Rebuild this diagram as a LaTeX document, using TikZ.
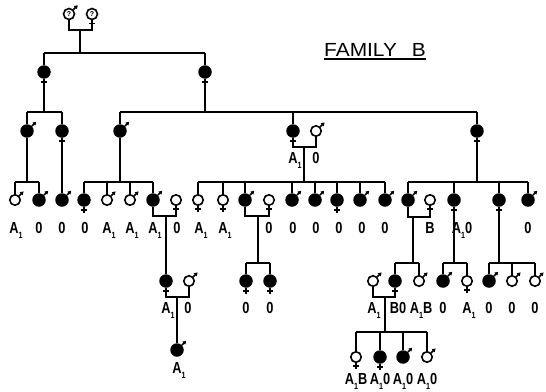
\documentclass[tikz,border=0pt]{standalone}
\usepackage{fontspec}
\setmainfont{Liberation Sans}
\newfontfamily\labfont[FakeStretch=0.8]{Liberation Sans}
\newfontfamily\titfont[FakeStretch=1.1]{Liberation Sans}
\usetikzlibrary{arrows.meta}
\newcommand\Ao{A\raisebox{-0.36em}{\fontsize{9}{9}\selectfont 1}}
\begin{document}
\begin{tikzpicture}[x=1pt,y=-1pt,
 fm/.style={circle,fill=black,minimum size=13.5pt,inner sep=0pt},
 om/.style={circle,draw,line width=1.6pt,fill=white,minimum size=10.5pt,inner sep=0pt},
 ln/.style={line width=1.8pt},
 lab/.style={inner sep=0pt,anchor=base,font=\labfont\bfseries\fontsize{16}{16}\selectfont},
 marrow/.style={line width=1.5pt,-{Triangle[length=3.4pt,width=4pt]}},
 qm/.style={font=\fontsize{7}{7}\selectfont\bfseries}
]
\useasboundingbox (0,0) rectangle (546,391);

% title
\node[inner sep=0pt,anchor=base west,font=\titfont\fontsize{19}{19}\selectfont] (title) at (324,56) {FAMILY\hspace{15pt}B};
\draw[line width=1.6pt] ([yshift=-3pt]title.base west) -- ([yshift=-3pt]title.base east);

% Generation I
\node[om,minimum size=11pt,qm] (g1m) at (69,14) {?};
\node[om,minimum size=11pt,qm] (g1f) at (92,14) {?};
% Generation II
\node[fm] (g2a) at (44,72) {};
\node[fm] (g2b) at (205,72) {};
% Generation III
\node[fm] (g3a) at (27,131) {};
\node[fm] (g3b) at (62,131) {};
\node[fm] (g3c) at (120,131) {};
\node[fm] (g3d) at (293,131) {};
\node[om] (g3ds) at (316,131) {};
\node[fm] (g3e) at (477,131) {};
% Generation IV
\node[om] (g4a) at (15,200) {};
\node[fm] (g4b) at (39,200) {};
\node[fm] (g4c) at (62,200) {};
\node[fm] (g4d) at (84,200) {};
\node[om] (g4e) at (107,200) {};
\node[om] (g4f) at (130,200) {};
\node[fm] (g4g) at (153,200) {};
\node[om] (g4gs) at (176,200) {};
\node[om] (g4h) at (198,200) {};
\node[om] (g4i) at (223,200) {};
\node[fm] (g4j) at (245,200) {};
\node[om] (g4js) at (269,200) {};
\node[fm] (g4k) at (292,200) {};
\node[fm] (g4l) at (315,200) {};
\node[fm] (g4m) at (337,200) {};
\node[fm] (g4n) at (360,200) {};
\node[fm] (g4o) at (385,200) {};
\node[fm] (g4p) at (408,200) {};
\node[om] (g4ps) at (430,200) {};
\node[fm] (g4q) at (454,200) {};
\node[fm] (g4r) at (499,200) {};
\node[fm] (g4s) at (528,200) {};
% Generation V
\node[fm] (g5a) at (166,281) {};
\node[om] (g5as) at (189,281) {};
\node[fm] (g5b) at (246,281) {};
\node[fm] (g5c) at (270,281) {};
\node[om] (g5ds) at (373,281) {};
\node[fm] (g5d) at (395,281) {};
\node[om] (g5e) at (419,281) {};
\node[fm] (g5f) at (443,281) {};
\node[om] (g5g) at (467,281) {};
\node[fm] (g5h) at (489,281) {};
\node[om] (g5i) at (512,281) {};
\node[om] (g5j) at (535,281) {};
% Generation VI
\node[fm] (g6a) at (177,350) {};
\node[om] (g6b) at (356,357) {};
\node[fm] (g6c) at (380,357) {};
\node[fm] (g6d) at (403,357) {};
\node[om] (g6e) at (427,357) {};

% junction coordinates
\coordinate (m1) at (80,30);
\coordinate (s1) at (80,53);
\coordinate (s2a) at (44,112);
\coordinate (s2b) at (205,112);
\coordinate (mm3) at (304,147);
\coordinate (s3a) at (27,182);
\coordinate (s3c) at (120,182);
\coordinate (s3d) at (304,182);
\coordinate (s3e) at (477,182);
\coordinate (mm4g) at (166,216);
\coordinate (mm4j) at (258,216);
\coordinate (s4j) at (258,263);
\coordinate (mm4p) at (413,217);
\coordinate (s4p) at (413,263);
\coordinate (s4q) at (454,263);
\coordinate (s4r) at (499,263);
\coordinate (mm5a) at (177,297);
\coordinate (mm5d) at (385,297);
\coordinate (s5d) at (385,332);

% connectors
\draw[ln] (g1m.south) |- (m1) -| (g1f.south);
\draw[ln] (m1) -- (s1);
\draw[ln] (g2a|-s1) -- (g2b|-s1);
\foreach \c in {g2a,g2b} \draw[ln] (\c|-s1) -- (\c.north);

\draw[ln] (g2a.south) -- (s2a);
\draw[ln] (g3a|-s2a) -- (g3b|-s2a);
\foreach \c in {g3a,g3b} \draw[ln] (\c|-s2a) -- (\c.north);

\draw[ln] (g2b.south) -- (s2b);
\draw[ln] (g3c|-s2b) -- (g3e|-s2b);
\foreach \c in {g3c,g3d,g3e} \draw[ln] (\c|-s2b) -- (\c.north);

\draw[ln] (g3a.south) -- (s3a);
\draw[ln] (g4a|-s3a) -- (g4b|-s3a);
\foreach \c in {g4a,g4b} \draw[ln] (\c|-s3a) -- (\c.north);

\draw[ln] (g3b.south) -- (g4c.north);

\draw[ln] (g3c.south) -- (s3c);
\draw[ln] (g4d|-s3c) -- (g4g|-s3c);
\foreach \c in {g4d,g4e,g4f,g4g} \draw[ln] (\c|-s3c) -- (\c.north);

\draw[ln] (g3d.south) |- (mm3) -| (g3ds.south);
\draw[ln] (mm3) -- (s3d);
\draw[ln] (g4h|-s3d) -- (g4o|-s3d);
\foreach \c in {g4h,g4i,g4j,g4k,g4l,g4m,g4n,g4o} \draw[ln] (\c|-s3d) -- (\c.north);

\draw[ln] (g3e.south) -- (s3e);
\draw[ln] (g4p|-s3e) -- (g4s|-s3e);
\foreach \c in {g4p,g4q,g4r,g4s} \draw[ln] (\c|-s3e) -- (\c.north);

\draw[ln] (g4g.south) |- (mm4g) -| (g4gs.south);
\draw[ln] (mm4g) -- (g5a.north);

\draw[ln] (g4j.south) |- (mm4j) -| (g4js.south);
\draw[ln] (mm4j) -- (s4j);
\draw[ln] (g5b|-s4j) -- (g5c|-s4j);
\foreach \c in {g5b,g5c} \draw[ln] (\c|-s4j) -- (\c.north);

\draw[ln] (g4p.south) |- (mm4p) -| (g4ps.south);
\draw[ln] (mm4p) -- (s4p);
\draw[ln] (g5d|-s4p) -- (g5e|-s4p);
\foreach \c in {g5d,g5e} \draw[ln] (\c|-s4p) -- (\c.north);

\draw[ln] (g4q.south) -- (s4q);
\draw[ln] (g5f|-s4q) -- (g5g|-s4q);
\foreach \c in {g5f,g5g} \draw[ln] (\c|-s4q) -- (\c.north);

\draw[ln] (g4r.south) -- (s4r);
\draw[ln] (g5h|-s4r) -- (g5j|-s4r);
\foreach \c in {g5h,g5i,g5j} \draw[ln] (\c|-s4r) -- (\c.north);

\draw[ln] (g5a.south) |- (mm5a) -| (g5as.south);
\draw[ln] (mm5a) -- (g6a.north);

\draw[ln] (g5ds.south) |- (mm5d) -| (g5d.south);
\draw[ln] (mm5d) -- (s5d);
\draw[ln] (g6b|-s5d) -- (g6e|-s5d);
\foreach \c in {g6b,g6c,g6d,g6e} \draw[ln] (\c|-s5d) -- (\c.north);

% sex marks
\foreach \n in {g1m,g3a,g3c,g3ds,g4a,g4b,g4c,g4e,g4f,g4g,g4j,g4k,g4l,g4n,g4o,g4p,g4s,g5as,g5ds,g5e,g5f,g5h,g5i,g5j,g6a,g6d,g6e}
  \draw[marrow] (\n.45) -- ++(4.3pt,4.3pt);
\foreach \n in {g1f,g2a,g2b,g3b,g3d,g3e,g4d,g4gs,g4h,g4i,g4js,g4m,g4ps,g4q,g4r,g5a,g5b,g5c,g5d,g5g,g6b,g6c}
  {\draw[line width=1.5pt] (\n.south) -- ++(0,6);
   \draw[line width=1.4pt] ([shift={(-2.8,3)}]\n.south) -- ++(5.6,0);}

% labels
\node[lab] (l3a) at (295,163) {\Ao};
\node[lab] (l3b) at (316,163) {0};
\foreach \x/\t [count=\i] in {16/\Ao,39/0,62/0,85/0,109/\Ao,132/\Ao,155/\Ao,177/0,201/\Ao,225/\Ao,269/0,293/0,316/0,339/0,362/0,385/0,430/B,462/\Ao0,528/0}
  \node[lab] (l4-\i) at (\x,233) {\t};
\foreach \x/\t [count=\i] in {168/\Ao,188/0,246/0,270/0,374/\Ao,398/B0,421/\Ao B,443/0,469/\Ao,489/0,512/0,535/0}
  \node[lab] (l5-\i) at (\x,313) {\t};
\node[lab] (l6a) at (179,373) {\Ao};
\foreach \x/\t [count=\i] in {356/\Ao B,380/\Ao0,403/\Ao0,427/\Ao0}
  \node[lab] (l6-\i) at (\x,384) {\t};
\end{tikzpicture}
\end{document}
